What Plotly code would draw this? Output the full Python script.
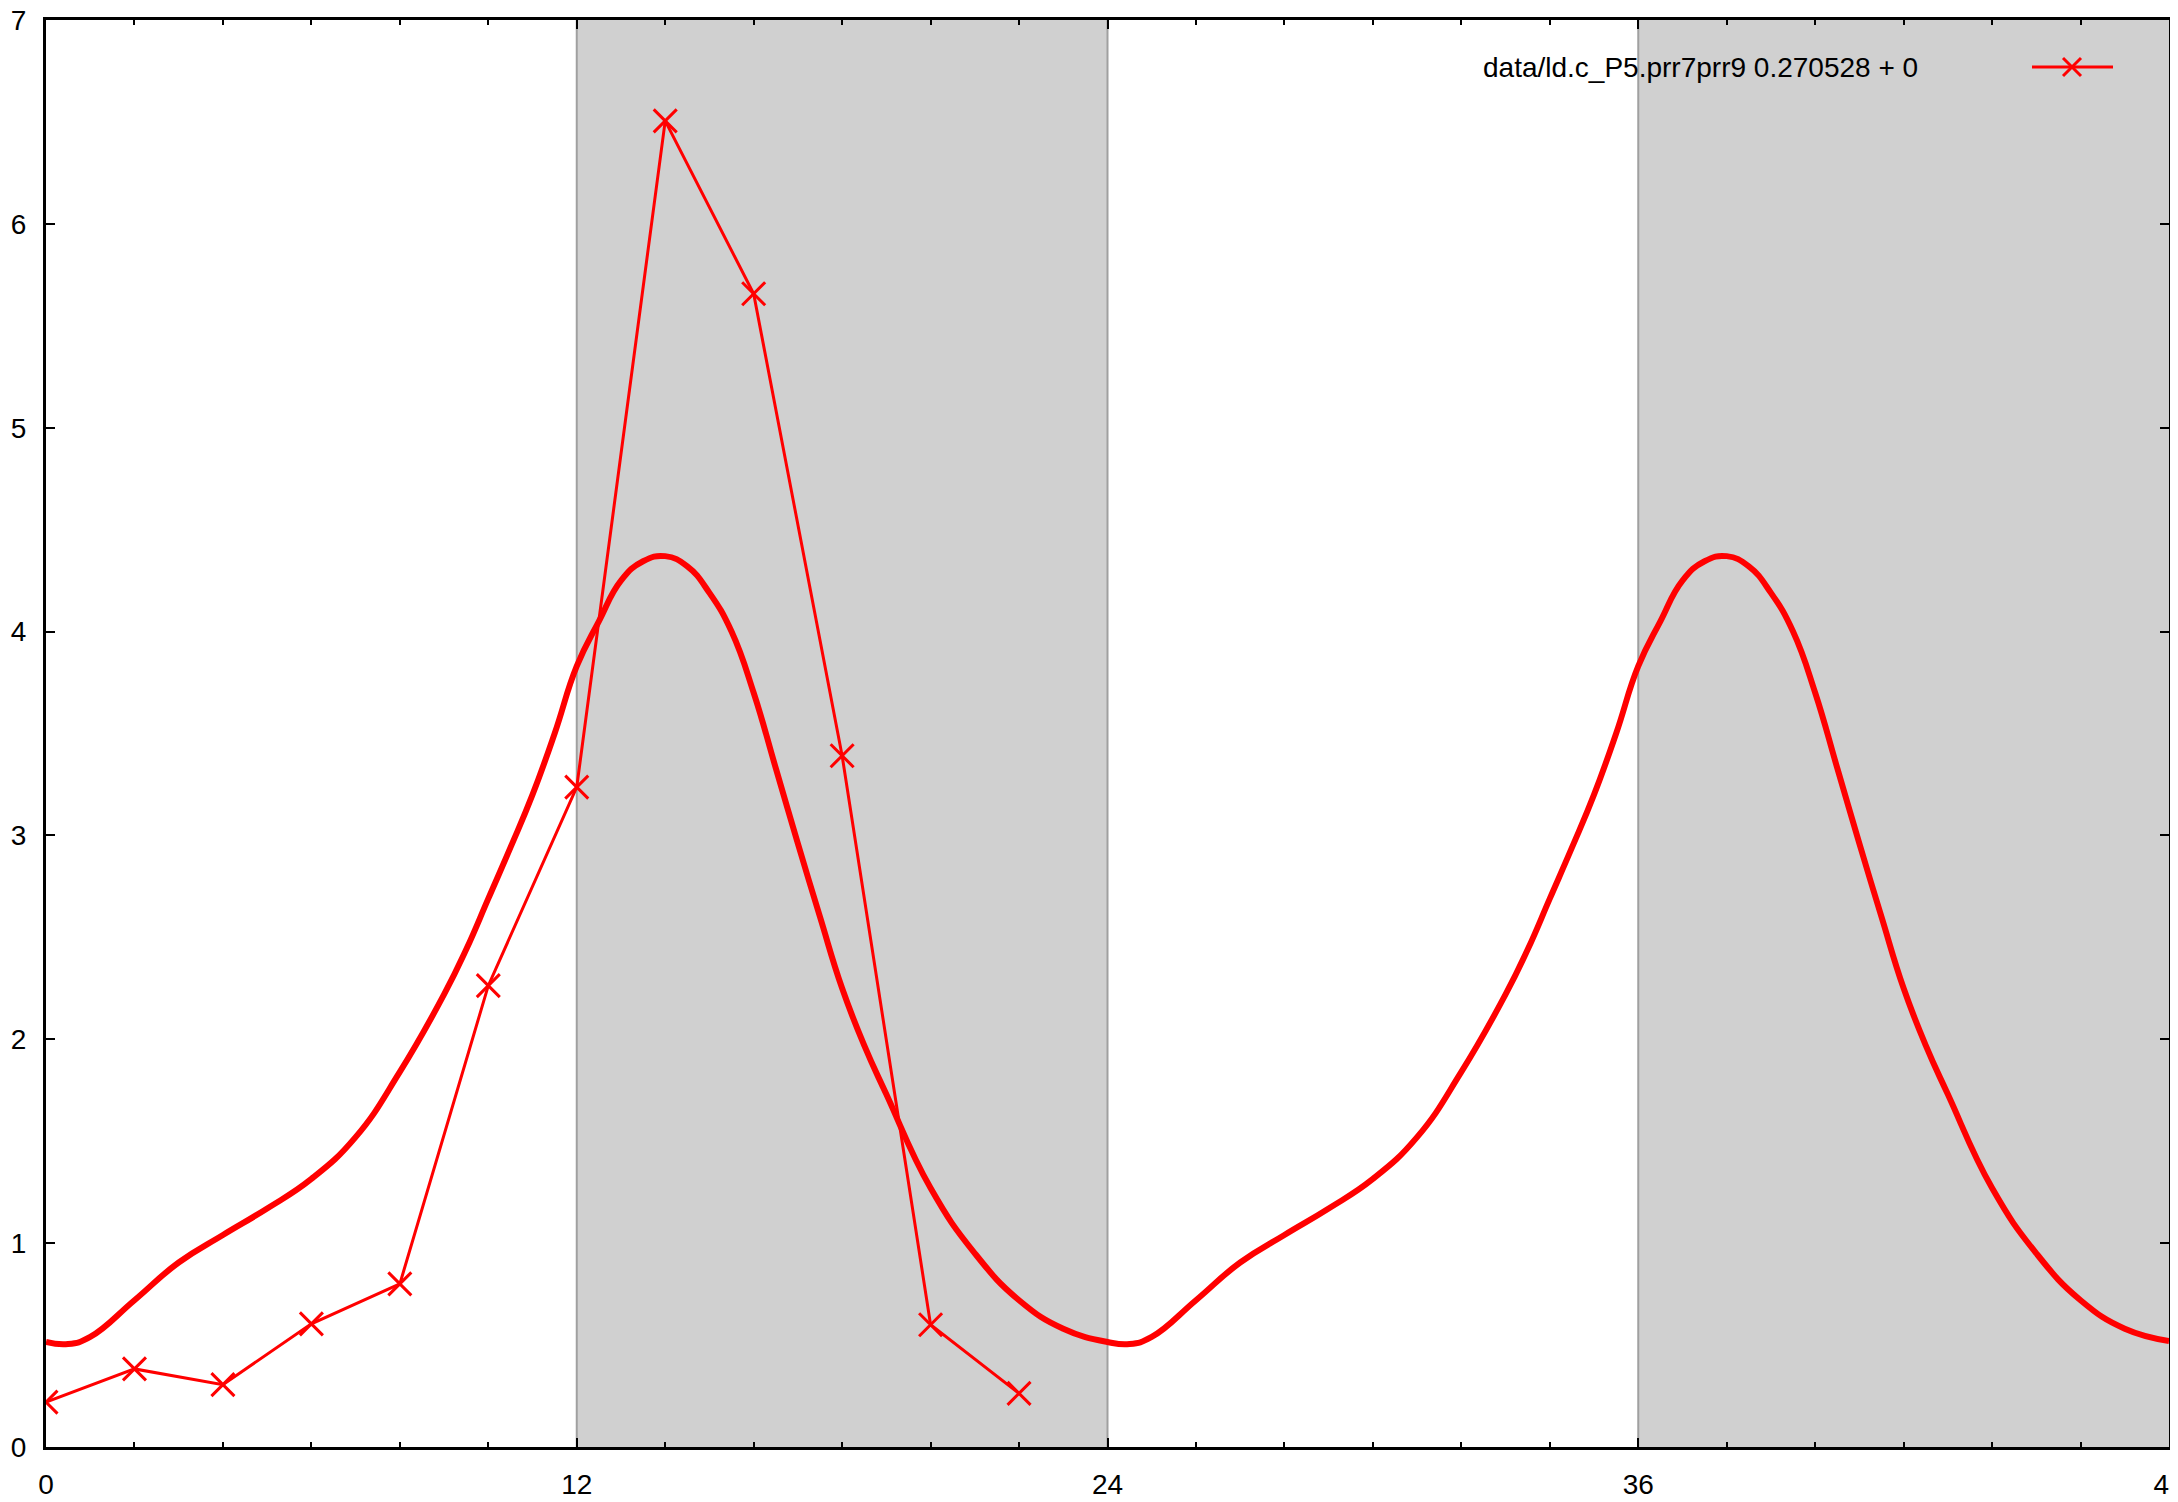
import plotly.graph_objects as go

# ---- data ----
obs_hours = [0, 2, 4, 6, 8, 10, 12, 14, 16, 18, 20, 22]
obs_values = [0.22, 0.383, 0.306, 0.604, 0.80, 2.263, 3.237, 6.505, 5.657, 3.391, 0.600, 0.263]

model_hours = [0, 0.5, 1, 2, 3, 4, 5, 6, 7, 8, 9, 9.5, 10, 10.5, 11, 11.5, 12, 12.5, 13, 13.5, 14, 14.5,
               15, 15.5, 16, 16.5, 17, 17.5, 18, 18.5, 19, 20, 21, 22, 23,
               24, 24.5, 25, 26, 27, 28, 29, 30, 31, 32, 33, 33.5, 34, 34.5, 35, 35.5, 36, 36.5, 37, 37.5, 38, 38.5,
               39, 39.5, 40, 40.5, 41, 41.5, 42, 42.5, 43, 44, 45, 46, 47, 48]
model_values = [0.515, 0.505, 0.54, 0.72, 0.905, 1.04, 1.17, 1.315, 1.52, 1.84, 2.22, 2.44, 2.69, 2.94, 3.20, 3.50, 3.83, 4.05, 4.25, 4.345, 4.37, 4.32,
                4.19, 4.00, 3.70, 3.33, 2.96, 2.60, 2.25, 1.97, 1.73, 1.27, 0.95, 0.72, 0.58,
                0.515, 0.505, 0.54, 0.72, 0.905, 1.04, 1.17, 1.315, 1.52, 1.84, 2.22, 2.44, 2.69, 2.94, 3.20, 3.50, 3.83, 4.05, 4.25, 4.345, 4.37, 4.32,
                4.19, 4.00, 3.70, 3.33, 2.96, 2.60, 2.25, 1.97, 1.73, 1.27, 0.95, 0.72, 0.58, 0.52]

dark_start = [12, 36]
dark_end = [24, 48]

x_tick_vals = [0, 12, 24, 36, 48]
x_tick_text = ["0", "12", "24", "36", "48"]
y_tick_vals = [0, 1, 2, 3, 4, 5, 6, 7]

legend_label = "data/ld.c_P5.prr7prr9 0.270528 + 0"

# ---- figure ----
W, H = 2178, 1502
BODY = 8  # default page body margin of the html page
# target plot area in page pixels: x 46..2169, y 20..1447
ML = 46 - BODY
MT = 20 - BODY
MR = (W + BODY) - 2169
MB = (H + BODY) - 1447
RED = "#ff0000"
FONT = "Liberation Sans, Arial, Helvetica, sans-serif"
FS = 28

fig = go.Figure()

fig.add_trace(go.Scatter(
    x=obs_hours, y=obs_values, mode="lines+markers",
    line=dict(color=RED, width=3),
    marker=dict(symbol="x-thin", size=23, line=dict(color=RED, width=3), color=RED),
    showlegend=False, hoverinfo="skip"))

fig.add_trace(go.Scatter(
    x=model_hours, y=model_values, mode="lines",
    line=dict(color=RED, width=6, shape="spline", smoothing=1.3),
    showlegend=False, hoverinfo="skip"))

shapes = []
for s, e in zip(dark_start, dark_end):
    shapes.append(dict(type="rect", xref="x", yref="paper", x0=s, x1=e, y0=0, y1=1,
                       fillcolor="#d0d0d0", line=dict(width=0), layer="below"))
for v in dark_start + dark_end[:-1]:
    shapes.append(dict(type="line", xref="x", yref="paper", x0=v, x1=v, y0=0, y1=1,
                       line=dict(color="#a0a0a0", width=2), layer="below"))

# legend (gnuplot style: text then sample on the right), positions in page pixels
pw = W - ML - MR
ph = H - MT - MB
def px(xp):
    return (xp - BODY - ML) / pw
def py(yp):
    return (H - MB - (yp - BODY)) / ph

ly = py(67)
shapes.append(dict(type="line", xref="paper", yref="paper", x0=px(2032), x1=px(2113), y0=ly, y1=ly,
                   line=dict(color=RED, width=3)))
cx, cy = 2072, 67
d = 9
shapes.append(dict(type="line", xref="paper", yref="paper", x0=px(cx - d), x1=px(cx + d),
                   y0=py(cy - d), y1=py(cy + d), line=dict(color=RED, width=3)))
shapes.append(dict(type="line", xref="paper", yref="paper", x0=px(cx - d), x1=px(cx + d),
                   y0=py(cy + d), y1=py(cy - d), line=dict(color=RED, width=3)))

annotations = [dict(xref="paper", yref="paper", x=px(1920), y=ly, xanchor="right", yanchor="middle",
                    text=legend_label, showarrow=False, font=dict(size=FS, color="black", family=FONT))]

fig.update_layout(
    template="none",
    width=W, height=H,
    margin=dict(l=ML, r=MR, t=MT, b=MB, pad=0, autoexpand=False),
    paper_bgcolor="white", plot_bgcolor="white",
    font=dict(family=FONT, size=FS, color="black"),
    shapes=shapes, annotations=annotations,
    showlegend=False,
)

fig.update_xaxes(
    range=[0, 48], tickmode="array", tickvals=x_tick_vals, ticktext=x_tick_text,
    ticks="inside", ticklen=9, tickwidth=2, tickcolor="black",
    minor=dict(dtick=2, tick0=0, ticks="inside", ticklen=5, tickwidth=2, tickcolor="black", showgrid=False),
    showline=True, linewidth=3, linecolor="black", mirror="allticks",
    showgrid=False, zeroline=False, ticklabelstandoff=10, automargin=False,
    ticklabeloverflow="allow",
    tickfont=dict(size=FS, family=FONT, color="black"),
)
fig.update_yaxes(
    range=[0, 7], tickmode="array", tickvals=y_tick_vals,
    ticks="inside", ticklen=9, tickwidth=2, tickcolor="black",
    showline=True, linewidth=3, linecolor="black", mirror="allticks",
    showgrid=False, zeroline=False, ticklabelstandoff=11, automargin=False,
    ticklabeloverflow="allow",
    tickfont=dict(size=FS, family=FONT, color="black"),
)

fig.write_html("out.html")
